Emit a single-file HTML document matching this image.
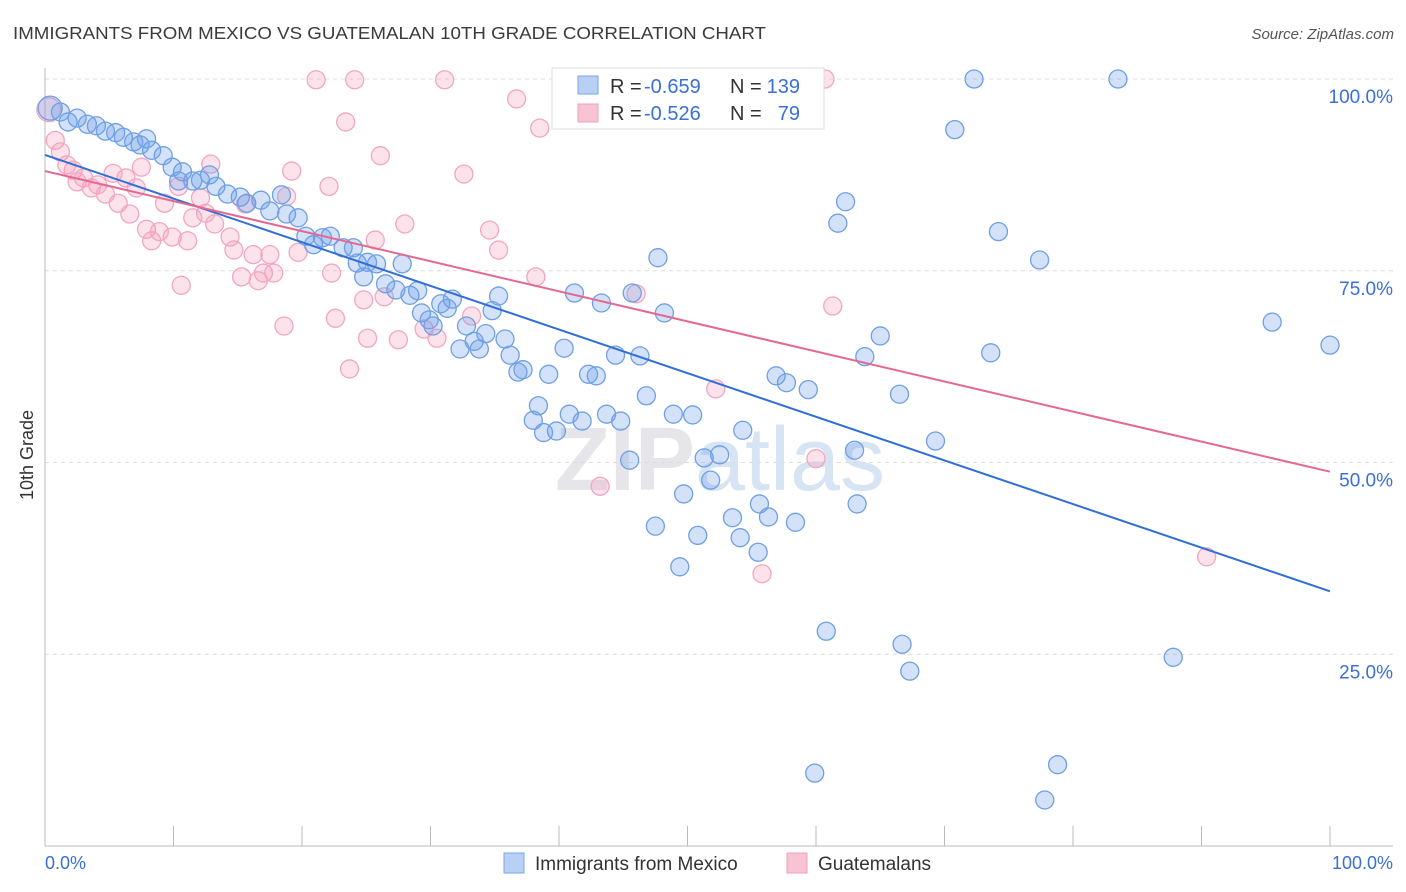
<!DOCTYPE html>
<html><head><meta charset="utf-8"><style>
body{margin:0;background:#fff;font-family:"Liberation Sans",sans-serif}
svg{display:block}
</style></head><body>
<svg id="chart" width="1406" height="892" xmlns="http://www.w3.org/2000/svg">
<text x="13" y="39" font-size="17.5" fill="#3a3a3a" font-family="Liberation Sans" textLength="753" lengthAdjust="spacingAndGlyphs">IMMIGRANTS FROM MEXICO VS GUATEMALAN 10TH GRADE CORRELATION CHART</text>
<text x="1394" y="39" font-size="15" fill="#555" font-style="italic" text-anchor="end">Source: ZipAtlas.com</text>
<text x="720" y="490" font-size="90" fill="#e6e6ea" text-anchor="middle" font-weight="bold">ZIP<tspan fill="#d6e4f4" font-weight="normal">atlas</tspan></text>
<g id="grid"></g>
<g id="axes"></g>
<g id="points"></g>
<g id="trends"></g>
<g>
<rect x="552" y="68" width="272" height="61" fill="#fff" stroke="#ddd"/>
<rect x="578" y="76" width="20" height="18" fill="#b8d0f4" stroke="#7aa6e6"/>
<rect x="578" y="104" width="20" height="18" fill="#f8c4d4" stroke="#eea0ba"/>
<text x="610" y="93" font-size="20" fill="#333">R =</text>
<text x="644" y="93" font-size="20" fill="#3a6fd8">-0.659</text>
<text x="730" y="93" font-size="20" fill="#333">N =</text>
<text x="800" y="93" font-size="20" fill="#3a6fd8" text-anchor="end">139</text>
<text x="610" y="120" font-size="20" fill="#333">R =</text>
<text x="644" y="120" font-size="20" fill="#3a6fd8">-0.526</text>
<text x="730" y="120" font-size="20" fill="#333">N =</text>
<text x="800" y="120" font-size="20" fill="#3a6fd8" text-anchor="end">79</text>
</g>
<g>
<rect x="504" y="853" width="20" height="20" fill="#b8d0f4" stroke="#7aa6e6"/>
<text x="535" y="870" font-size="19" fill="#333">Immigrants from Mexico</text>
<rect x="787" y="853" width="20" height="20" fill="#f8c4d4" stroke="#eea0ba"/>
<text x="818" y="870" font-size="19" fill="#333">Guatemalans</text>
</g>
<text transform="translate(33,455) rotate(-90)" font-size="18" fill="#333" text-anchor="middle">10th Grade</text>
</svg>
<script>
const blueX=[0.4,1.2,1.8,2.5,3.3,4.0,4.7,5.5,6.1,6.9,7.9,7.4,8.3,9.2,9.9,10.7,10.4,11.5,12.1,12.8,13.3,14.2,15.2,15.7,16.8,18.4,17.5,18.8,19.7,20.3,20.9,21.6,22.2,23.2,24.0,24.3,25.1,25.8,24.8,27.8,26.5,27.3,28.4,29.0,30.8,31.7,29.3,29.9,30.2,31.3,32.3,32.8,33.4,33.8,34.3,34.8,35.3,35.8,36.2,36.8,37.2,39.2,40.4,41.2,43.3,44.4,45.7,46.3,47.7,48.2,42.3,42.9,38.4,38.0,38.8,39.8,40.8,41.8,43.7,44.8,46.8,45.5,47.5,48.9,49.7,49.4,50.4,50.8,51.3,51.8,52.5,53.5,54.1,54.3,55.5,55.6,56.3,56.9,57.7,58.4,59.4,60.8,59.9,61.7,62.3,63.0,63.2,63.8,65.0,66.5,66.7,67.3,69.3,70.8,72.3,73.6,74.2,77.4,77.8,78.8,83.5,87.8,95.5,100];
const blueY=[96.2,95.7,94.4,94.9,94.1,93.9,93.2,93.0,92.4,91.8,92.2,91.4,90.7,90.0,88.5,87.9,86.7,86.7,86.8,87.5,86.0,85.0,84.6,83.8,84.2,84.9,82.8,82.4,81.9,79.5,78.4,79.3,79.5,78.0,78.0,76.0,76.1,75.9,74.2,75.9,73.3,72.5,71.8,72.4,70.7,71.3,69.5,68.6,67.8,70.1,64.8,67.8,65.8,64.8,66.8,69.8,71.7,66.1,64.0,61.8,62.1,61.5,64.9,72.1,70.8,64.0,72.1,63.9,76.7,69.5,61.5,61.3,57.4,55.5,53.9,54.1,56.3,55.4,56.3,55.4,58.7,50.3,41.7,56.3,45.9,36.4,56.2,40.5,50.6,47.7,51.0,42.8,40.2,54.2,38.3,44.6,42.9,61.3,60.4,42.2,59.5,28.0,9.5,81.2,84.0,51.6,44.6,63.8,66.5,58.9,26.3,22.8,52.8,93.4,100,64.3,80.1,76.4,6.0,10.6,100,24.6,68.3,65.3];
const pinkX=[0.3,0.8,1.2,1.7,2.2,2.5,3.0,3.6,4.1,4.7,5.3,5.7,6.3,6.6,7.1,7.5,7.9,8.3,8.9,9.3,9.9,10.4,10.6,11.1,11.5,12.1,12.5,12.9,13.2,14.4,14.7,15.3,15.6,16.2,16.6,17.0,17.5,17.8,18.6,18.8,19.2,19.7,21.1,22.1,22.3,22.6,23.4,23.7,24.1,24.8,25.1,25.7,26.1,26.4,27.5,28.0,29.5,30.5,31.1,32.6,33.2,34.6,35.3,36.7,38.2,38.5,43.2,46.0,52.2,55.8,60.0,61.3,60.7,90.4];
const pinkY=[96.0,92.0,90.5,88.8,88.1,86.6,87.1,85.8,86.2,85.0,87.7,83.8,87.1,82.4,85.8,88.5,80.4,78.9,80.1,83.8,79.4,86.0,73.1,78.9,81.9,84.5,82.5,88.9,81.1,79.4,77.7,74.2,83.7,77.1,73.7,74.7,77.1,74.7,67.8,84.7,88.0,77.4,99.9,86.0,74.7,68.8,94.4,62.2,99.9,71.2,66.2,79.0,90.0,71.6,66.0,81.1,67.4,66.2,99.9,87.6,69.1,80.3,77.7,97.4,74.2,93.6,46.9,72.0,59.6,35.5,50.5,70.4,100,37.7];
const blueTrend=[90.1,33.2];
const pinkTrend=[88.0,48.8];
const yTicks=[100,75,50,25];
const yTickLabels=["100.0%","75.0%","50.0%","25.0%"];
const xTicks=[0,10,20,30,40,50,60,70,80,90,100];

const NS="http://www.w3.org/2000/svg";
const X=v=>45+v*12.85, Y=v=>846-v*7.67;
function mk(t,a,p){const e=document.createElementNS(NS,t);for(const k in a)e.setAttribute(k,a[k]);document.getElementById(p).appendChild(e);return e;}
yTicks.forEach((t,i)=>{
 const l=mk('line',{x1:45,x2:1393,y1:Y(t),y2:Y(t),stroke:'#dcdcdc','stroke-dasharray':'4,4'},'grid');
 
 
 const tx=mk('text',{x:1393,y:Y(t)+24,'font-size':19,fill:'#3a6fd8','text-anchor':'end'},'axes');
 tx.textContent=yTickLabels[i];
 
 
});
const ax=mk('line',{x1:45,x2:45,y1:68,y2:846,stroke:'#bbb'},'axes');


const bx=mk('line',{x1:45,x2:1393,y1:846,y2:846,stroke:'#bbb'},'axes');


xTicks.forEach(t=>{
 const l=mk('line',{x1:X(t),x2:X(t),y1:826,y2:846,stroke:'#bbb'},'axes');
 
 
});
const xl0=mk('text',{x:45,y:869,'font-size':18,fill:'#3a6fd8'},'axes');xl0.textContent='0.0%';


const xl1=mk('text',{x:1393,y:869,'font-size':18,fill:'#3a6fd8','text-anchor':'end'},'axes');xl1.textContent='100.0%';


pinkX.forEach((v,i)=>{
 const c=mk('circle',{cx:X(v),cy:Y(pinkY[i]),r:i==0?12:9,fill:'rgba(244,160,188,0.3)',stroke:'#f2a6c0','stroke-width':1.3},'points');
 
 
});
blueX.forEach((v,i)=>{
 const c=mk('circle',{cx:X(v),cy:Y(blueY[i]),r:i==0?12:9,fill:'rgba(110,160,232,0.3)',stroke:'#6f9fe6','stroke-width':1.3},'points');
 
 
});
const bt=mk('line',{x1:X(0),y1:Y(blueTrend[0]),x2:X(100),y2:Y(blueTrend[1]),stroke:'#2f6fd6','stroke-width':2},'trends');


const pt=mk('line',{x1:X(0),y1:Y(pinkTrend[0]),x2:X(100),y2:Y(pinkTrend[1]),stroke:'#e4688f','stroke-width':2},'trends');


</script>
</body></html>
